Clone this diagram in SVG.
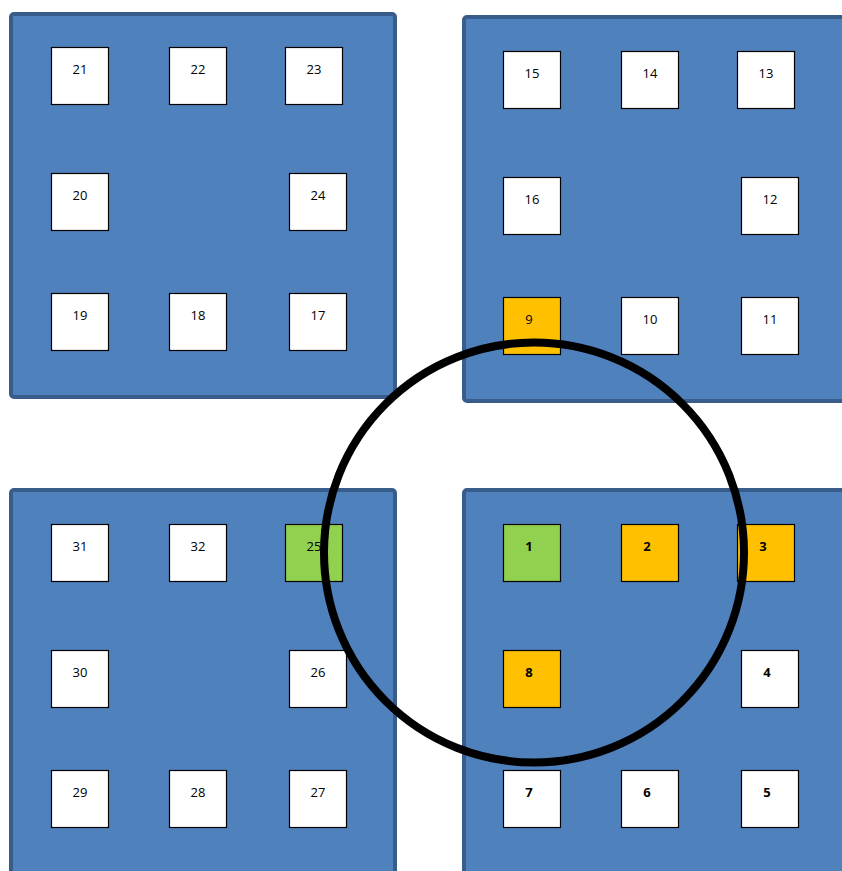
<svg xmlns="http://www.w3.org/2000/svg" width="842" height="871" viewBox="0 0 842 871">
<style>
.panel{fill:#4f81bd;stroke:#385d8a;stroke-width:4}
.box{fill:#ffffff;stroke:#000000;stroke-width:1.2}
.g{fill:#92d050}
.o{fill:#ffc000}
text{font-family:"Open Sans","Liberation Sans",sans-serif;font-size:13px;fill:#000;text-anchor:middle}
.b{font-weight:bold}
</style>
<rect width="842" height="871" fill="#ffffff"/>
<g id="panel-tl"><rect class="panel" x="11" y="14" width="384" height="383" rx="3"/></g>
<g id="panel-tr"><rect class="panel" x="464" y="17" width="390" height="384" rx="3"/></g>
<g id="panel-bl"><rect class="panel" x="11" y="490" width="384" height="400" rx="3"/></g>
<g id="panel-br"><rect class="panel" x="464" y="490" width="390" height="400" rx="3"/></g>

<g id="n21"><rect class="box" x="51.5" y="47.5" width="57" height="57"/><text x="80" y="74">21</text></g>
<g id="n22"><rect class="box" x="169.5" y="47.5" width="57" height="57"/><text x="198" y="74">22</text></g>
<g id="n23"><rect class="box" x="285.5" y="47.5" width="57" height="57"/><text x="314" y="74">23</text></g>
<g id="n20"><rect class="box" x="51.5" y="173.5" width="57" height="57"/><text x="80" y="200">20</text></g>
<g id="n24"><rect class="box" x="289.5" y="173.5" width="57" height="57"/><text x="318" y="200">24</text></g>
<g id="n19"><rect class="box" x="51.5" y="293.5" width="57" height="57"/><text x="80" y="320">19</text></g>
<g id="n18"><rect class="box" x="169.5" y="293.5" width="57" height="57"/><text x="198" y="320">18</text></g>
<g id="n17"><rect class="box" x="289.5" y="293.5" width="57" height="57"/><text x="318" y="320">17</text></g>

<g id="n15"><rect class="box" x="503.5" y="51.5" width="57" height="57"/><text x="532" y="78">15</text></g>
<g id="n14"><rect class="box" x="621.5" y="51.5" width="57" height="57"/><text x="650" y="78">14</text></g>
<g id="n13"><rect class="box" x="737.5" y="51.5" width="57" height="57"/><text x="766" y="78">13</text></g>
<g id="n16"><rect class="box" x="503.5" y="177.5" width="57" height="57"/><text x="532" y="204">16</text></g>
<g id="n12"><rect class="box" x="741.5" y="177.5" width="57" height="57"/><text x="770" y="204">12</text></g>
<g id="n9"><rect class="box o" x="503.5" y="297.5" width="57" height="57"/><text x="529" y="324">9</text></g>
<g id="n10"><rect class="box" x="621.5" y="297.5" width="57" height="57"/><text x="650" y="324">10</text></g>
<g id="n11"><rect class="box" x="741.5" y="297.5" width="57" height="57"/><text x="770" y="324">11</text></g>

<g id="n31"><rect class="box" x="51.5" y="524.5" width="57" height="57"/><text x="80" y="551">31</text></g>
<g id="n32"><rect class="box" x="169.5" y="524.5" width="57" height="57"/><text x="198" y="551">32</text></g>
<g id="n25"><rect class="box g" x="285.5" y="524.5" width="57" height="57"/><text x="314" y="551">25</text></g>
<g id="n30"><rect class="box" x="51.5" y="650.5" width="57" height="57"/><text x="80" y="677">30</text></g>
<g id="n26"><rect class="box" x="289.5" y="650.5" width="57" height="57"/><text x="318" y="677">26</text></g>
<g id="n29"><rect class="box" x="51.5" y="770.5" width="57" height="57"/><text x="80" y="797">29</text></g>
<g id="n28"><rect class="box" x="169.5" y="770.5" width="57" height="57"/><text x="198" y="797">28</text></g>
<g id="n27"><rect class="box" x="289.5" y="770.5" width="57" height="57"/><text x="318" y="797">27</text></g>

<g id="n1"><rect class="box g" x="503.5" y="524.5" width="57" height="57"/><text class="b" x="529" y="551">1</text></g>
<g id="n2"><rect class="box o" x="621.5" y="524.5" width="57" height="57"/><text class="b" x="647" y="551">2</text></g>
<g id="n3"><rect class="box o" x="737.5" y="524.5" width="57" height="57"/><text class="b" x="763" y="551">3</text></g>
<g id="n8"><rect class="box o" x="503.5" y="650.5" width="57" height="57"/><text class="b" x="529" y="677">8</text></g>
<g id="n4"><rect class="box" x="741.5" y="650.5" width="57" height="57"/><text class="b" x="767" y="677">4</text></g>
<g id="n7"><rect class="box" x="503.5" y="770.5" width="57" height="57"/><text class="b" x="529" y="797">7</text></g>
<g id="n6"><rect class="box" x="621.5" y="770.5" width="57" height="57"/><text class="b" x="647" y="797">6</text></g>
<g id="n5"><rect class="box" x="741.5" y="770.5" width="57" height="57"/><text class="b" x="767" y="797">5</text></g>

<g id="connectors"><circle cx="534" cy="552.5" r="210" fill="none" stroke="#000000" stroke-width="8"/></g>
</svg>
